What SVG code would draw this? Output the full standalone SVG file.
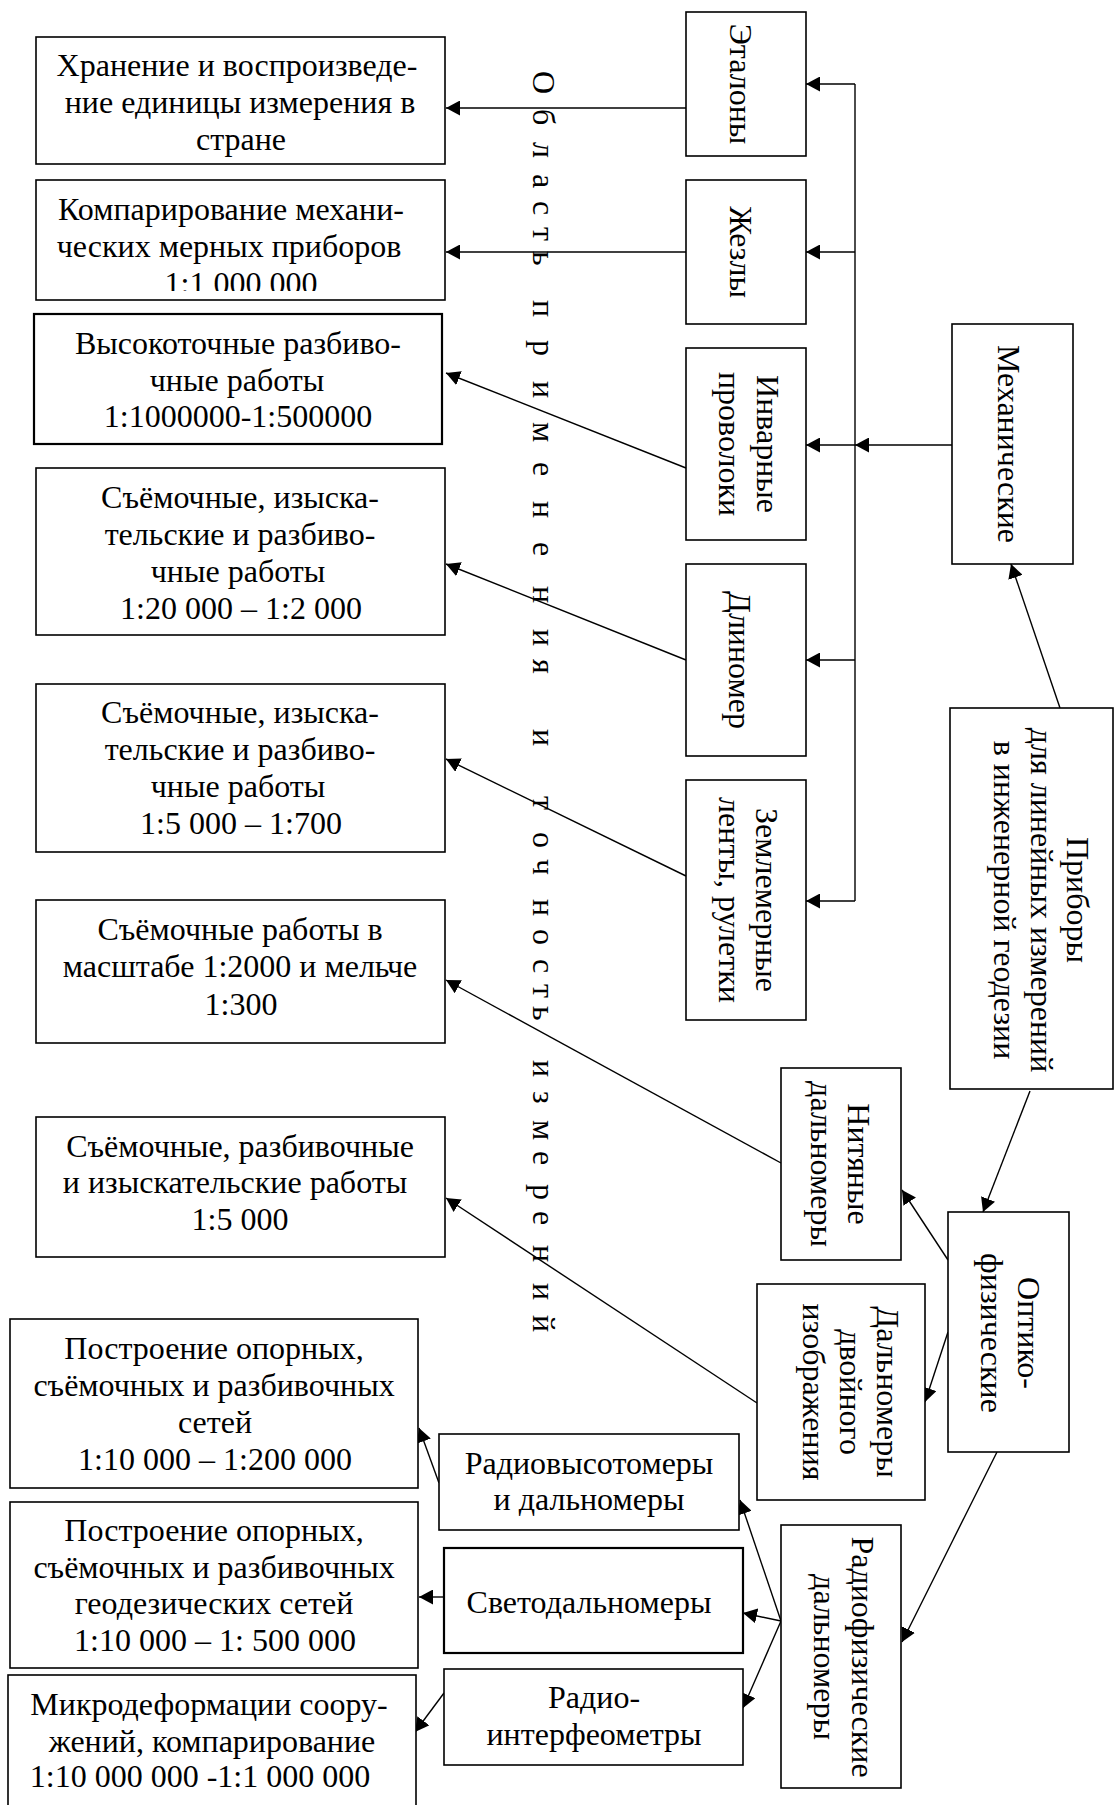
<svg xmlns="http://www.w3.org/2000/svg" width="1115" height="1805" viewBox="0 0 1115 1805">
<style>
.b{fill:#fff;stroke:#000;stroke-width:1.6}
.bb{stroke-width:2.2}
.t{font-family:"Liberation Serif","Times New Roman",serif;font-size:32px;fill:#000;text-anchor:middle}
.c line{stroke:#000;stroke-width:1.4;fill:none}
.a{marker-end:url(#ah)}
</style>
<defs>
<marker id="ah" markerUnits="userSpaceOnUse" markerWidth="15" markerHeight="15" refX="14" refY="7.5" orient="auto"><path d="M0,0 L14,7.5 L0,15 z" fill="#000"/></marker>
<clipPath id="clip2"><rect x="36" y="180" width="409" height="111"/></clipPath>
</defs>
<rect width="1115" height="1805" fill="#fff"/>

<g id="title"><text class="t" style="text-anchor:start" transform="translate(533,0) rotate(90)" y="0" x="71 109 142 174 201 227 251 275 300 340 381 422 462 501 542 586 629 659 690 729 760 796 832 859 899 929 959 984 1006 1030 1060 1091 1120 1151 1184 1211 1245 1283 1315">Область применения и точность измерений</text></g>

<g class="c" id="connectors">
<line x1="855" y1="84" x2="855" y2="901"/>
<line class="a" x1="855" y1="84" x2="806" y2="84"/>
<line class="a" x1="855" y1="252" x2="806" y2="252"/>
<line class="a" x1="855" y1="445" x2="806" y2="445"/>
<line class="a" x1="855" y1="660" x2="806" y2="660"/>
<line class="a" x1="855" y1="901" x2="806" y2="901"/>
<line class="a" x1="952" y1="445" x2="855" y2="445"/>
<line class="a" x1="1060" y1="708" x2="1011" y2="564"/>
<line class="a" x1="1030" y1="1091" x2="983" y2="1212"/>
<line class="a" x1="686" y1="108" x2="446" y2="108"/>
<line class="a" x1="686" y1="252" x2="446" y2="252"/>
<line class="a" x1="686" y1="468" x2="446" y2="373"/>
<line class="a" x1="686" y1="660" x2="446" y2="564"/>
<line class="a" x1="686" y1="876" x2="446" y2="759"/>
<line class="a" x1="781" y1="1163" x2="446" y2="980"/>
<line class="a" x1="757" y1="1403" x2="446" y2="1198"/>
<line class="a" x1="948" y1="1260" x2="902" y2="1190"/>
<line class="a" x1="948" y1="1332" x2="925" y2="1402"/>
<line class="a" x1="997" y1="1452" x2="902" y2="1642"/>
<line class="a" x1="781" y1="1621" x2="740" y2="1500"/>
<line class="a" x1="781" y1="1621" x2="743" y2="1613"/>
<line class="a" x1="781" y1="1621" x2="743" y2="1708"/>
<line class="a" x1="439" y1="1483" x2="419" y2="1428"/>
<line class="a" x1="444" y1="1597" x2="419" y2="1597"/>
<line class="a" x1="444" y1="1693" x2="415" y2="1732"/>
</g>

<g id="n-hranenie"><rect class="b" x="36" y="37" width="409" height="127"/>
<text class="t"><tspan x="237" y="76">Хранение и воспроизведе-</tspan><tspan x="240" y="113">ние единицы измерения в</tspan><tspan x="241" y="150">стране</tspan></text></g>

<g id="n-komparirovanie"><rect class="b" x="36" y="180" width="409" height="120"/>
<text class="t" clip-path="url(#clip2)"><tspan x="231" y="220">Компарирование механи-</tspan><tspan x="229" y="257">ческих мерных приборов</tspan><tspan x="241" y="294">1:1 000 000</tspan></text></g>

<g id="n-vysokotochnye"><rect class="b bb" x="34" y="314" width="408" height="130"/>
<text class="t"><tspan x="238" y="354">Высокоточные разбиво-</tspan><tspan x="237" y="391">чные работы</tspan><tspan x="238" y="427">1:1000000-1:500000</tspan></text></g>

<g id="n-s1"><rect class="b" x="36" y="468" width="409" height="167"/>
<text class="t"><tspan x="240" y="508">Съёмочные, изыска-</tspan><tspan x="240" y="545">тельские и разбиво-</tspan><tspan x="238" y="582">чные работы</tspan><tspan x="241" y="619">1:20 000 – 1:2 000</tspan></text></g>

<g id="n-s2"><rect class="b" x="36" y="684" width="409" height="168"/>
<text class="t"><tspan x="240" y="723">Съёмочные, изыска-</tspan><tspan x="240" y="760">тельские и разбиво-</tspan><tspan x="238" y="797">чные работы</tspan><tspan x="241" y="834">1:5 000 – 1:700</tspan></text></g>

<g id="n-s3"><rect class="b" x="36" y="900" width="409" height="143"/>
<text class="t"><tspan x="240" y="940">Съёмочные работы в</tspan><tspan x="240" y="977">масштабе 1:2000 и мельче</tspan><tspan x="241" y="1015">1:300</tspan></text></g>

<g id="n-s4"><rect class="b" x="36" y="1117" width="409" height="140"/>
<text class="t"><tspan x="240" y="1157">Съёмочные, разбивочные</tspan><tspan x="235" y="1193">и изыскательские работы</tspan><tspan x="240" y="1230">1:5 000</tspan></text></g>

<g id="n-p1"><rect class="b" x="10" y="1319" width="408" height="169"/>
<text class="t"><tspan x="214" y="1359">Построение опорных,</tspan><tspan x="214" y="1396">съёмочных и разбивочных</tspan><tspan x="215" y="1433">сетей</tspan><tspan x="215" y="1470">1:10 000 – 1:200 000</tspan></text></g>

<g id="n-p2"><rect class="b" x="10" y="1502" width="408" height="166"/>
<text class="t"><tspan x="214" y="1541">Построение опорных,</tspan><tspan x="214" y="1578">съёмочных и разбивочных</tspan><tspan x="214" y="1614">геодезических сетей</tspan><tspan x="215" y="1651">1:10 000 – 1: 500 000</tspan></text></g>

<g id="n-mikro"><rect class="b" x="8" y="1675" width="408" height="140"/>
<text class="t"><tspan x="209" y="1715">Микродеформации соору-</tspan><tspan x="212" y="1752">жений, компарирование</tspan><tspan x="200" y="1787">1:10 000 000 -1:1 000 000</tspan></text></g>

<g id="n-etalony"><rect class="b" x="686" y="12" width="120" height="144"/>
<text class="t" transform="translate(730,84) rotate(90)">Эталоны</text></g>

<g id="n-zhezly"><rect class="b" x="686" y="180" width="120" height="144"/>
<text class="t" transform="translate(730,252) rotate(90)">Жезлы</text></g>

<g id="n-invar"><rect class="b" x="686" y="348" width="120" height="192"/>
<text class="t" transform="translate(757,444) rotate(90)">Инварные</text>
<text class="t" transform="translate(719,444) rotate(90)">проволоки</text></g>

<g id="n-dlinomer"><rect class="b" x="686" y="564" width="120" height="192"/>
<text class="t" transform="translate(729,660) rotate(90)">Длиномер</text></g>

<g id="n-zemlemer"><rect class="b" x="686" y="780" width="120" height="240"/>
<text class="t" transform="translate(756,900) rotate(90)">Землемерные</text>
<text class="t" transform="translate(719,900) rotate(90)">ленты, рулетки</text></g>

<g id="n-mehan"><rect class="b" x="952" y="324" width="121" height="240"/>
<text class="t" transform="translate(998,444) rotate(90)">Механические</text></g>

<g id="n-pribory"><rect class="b" x="950" y="708" width="163" height="381"/>
<text class="t" transform="translate(1067,900) rotate(90)">Приборы</text>
<text class="t" transform="translate(1031,900) rotate(90)">для линейных измерений</text>
<text class="t" transform="translate(994,900) rotate(90)">в инженерной геодезии</text></g>

<g id="n-nityanye"><rect class="b" x="781" y="1068" width="120" height="192"/>
<text class="t" transform="translate(848,1164) rotate(90)">Нитяные</text>
<text class="t" transform="translate(811,1164) rotate(90)">дальномеры</text></g>

<g id="n-optiko"><rect class="b" x="948" y="1212" width="121" height="240"/>
<text class="t" transform="translate(1018,1333) rotate(90)">Оптико-</text>
<text class="t" transform="translate(981,1333) rotate(90)">физические</text></g>

<g id="n-dvoinogo"><rect class="b" x="757" y="1284" width="168" height="216"/>
<text class="t" transform="translate(877,1392) rotate(90)">Дальномеры</text>
<text class="t" transform="translate(840,1392) rotate(90)">двойного</text>
<text class="t" transform="translate(803,1392) rotate(90)">изображения</text></g>

<g id="n-radiovys"><rect class="b" x="439" y="1434" width="300" height="96"/>
<text class="t"><tspan x="589" y="1474">Радиовысотомеры</tspan><tspan x="589" y="1510">и дальномеры</tspan></text></g>

<g id="n-svetodal"><rect class="b bb" x="444" y="1548" width="299" height="105"/>
<text class="t" x="589" y="1613">Светодальномеры</text></g>

<g id="n-radiointerf"><rect class="b" x="444" y="1669" width="299" height="96"/>
<text class="t"><tspan x="594" y="1708">Радио-</tspan><tspan x="594" y="1745">интерфеометры</tspan></text></g>

<g id="n-radiofiz"><rect class="b" x="781" y="1525" width="120" height="263"/>
<text class="t" transform="translate(852,1657) rotate(90)">Радиофизические</text>
<text class="t" transform="translate(814,1657) rotate(90)">дальномеры</text></g>
</svg>
